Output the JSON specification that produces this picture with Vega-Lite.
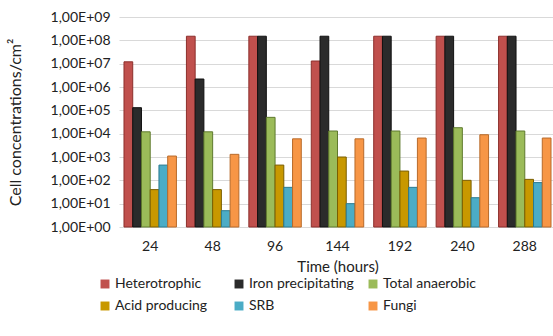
{
  "$schema": "https://vega.github.io/schema/vega-lite/v6.json",
  "width": 437,
  "height": 210,
  "padding": {"left": 7, "top": 10, "right": 0, "bottom": 0},
  "background": "white",
  "config": {
    "font": "Lato",
    "view": {"stroke": null},
    "axis": {"labelFont": "Lato", "titleFont": "Lato", "labelColor": "#222", "titleColor": "#222"},
    "legend": {"labelFont": "Lato", "labelColor": "#222"}
  },
  "data": {
    "values": [
      {"time": "24", "series": "Heterotrophic", "value": 12000000},
      {"time": "24", "series": "Iron precipitating", "value": 130000},
      {"time": "24", "series": "Total anaerobic", "value": 12000},
      {"time": "24", "series": "Acid producing", "value": 40},
      {"time": "24", "series": "SRB", "value": 450},
      {"time": "24", "series": "Fungi", "value": 1100},
      {"time": "48", "series": "Heterotrophic", "value": 150000000},
      {"time": "48", "series": "Iron precipitating", "value": 2200000},
      {"time": "48", "series": "Total anaerobic", "value": 12000},
      {"time": "48", "series": "Acid producing", "value": 40},
      {"time": "48", "series": "SRB", "value": 5},
      {"time": "48", "series": "Fungi", "value": 1300},
      {"time": "96", "series": "Heterotrophic", "value": 150000000},
      {"time": "96", "series": "Iron precipitating", "value": 150000000},
      {"time": "96", "series": "Total anaerobic", "value": 50000},
      {"time": "96", "series": "Acid producing", "value": 450},
      {"time": "96", "series": "SRB", "value": 50},
      {"time": "96", "series": "Fungi", "value": 6000},
      {"time": "144", "series": "Heterotrophic", "value": 13000000},
      {"time": "144", "series": "Iron precipitating", "value": 150000000},
      {"time": "144", "series": "Total anaerobic", "value": 13000},
      {"time": "144", "series": "Acid producing", "value": 1000},
      {"time": "144", "series": "SRB", "value": 10},
      {"time": "144", "series": "Fungi", "value": 6000},
      {"time": "192", "series": "Heterotrophic", "value": 150000000},
      {"time": "192", "series": "Iron precipitating", "value": 150000000},
      {"time": "192", "series": "Total anaerobic", "value": 13000},
      {"time": "192", "series": "Acid producing", "value": 250},
      {"time": "192", "series": "SRB", "value": 50},
      {"time": "192", "series": "Fungi", "value": 6500},
      {"time": "240", "series": "Heterotrophic", "value": 150000000},
      {"time": "240", "series": "Iron precipitating", "value": 150000000},
      {"time": "240", "series": "Total anaerobic", "value": 18000},
      {"time": "240", "series": "Acid producing", "value": 100},
      {"time": "240", "series": "SRB", "value": 18},
      {"time": "240", "series": "Fungi", "value": 9000},
      {"time": "288", "series": "Heterotrophic", "value": 150000000},
      {"time": "288", "series": "Iron precipitating", "value": 150000000},
      {"time": "288", "series": "Total anaerobic", "value": 13000},
      {"time": "288", "series": "Acid producing", "value": 110},
      {"time": "288", "series": "SRB", "value": 80},
      {"time": "288", "series": "Fungi", "value": 6500}
    ]
  },
  "mark": {"type": "bar", "strokeWidth": 1},
  "encoding": {
    "x": {
      "field": "time", "type": "ordinal",
      "sort": ["24", "48", "96", "144", "192", "240", "288"],
      "scale": {"paddingInner": 0.16, "paddingOuter": 0.08},
      "axis": {"title": "Time (hours)", "labelAngle": 0, "domain": false, "ticks": false, "labelFontSize": 14, "titleFontSize": 15, "titleFontWeight": "normal", "labelPadding": 12, "titlePadding": 6}
    },
    "xOffset": {
      "field": "series", "type": "nominal",
      "sort": ["Heterotrophic", "Iron precipitating", "Total anaerobic", "Acid producing", "SRB", "Fungi"],
      "scale": {"paddingInner": 0}
    },
    "y": {
      "field": "value", "type": "quantitative",
      "scale": {"type": "log", "domain": [1, 1000000000]},
      "axis": {
        "title": "Cell concentrations/cm²",
        "values": [1, 10, 100, 1000, 10000, 100000, 1000000, 10000000, 100000000, 1000000000],
        "labelExpr": "'1,00E+0' + round(log(datum.value)/LN10)",
        "domain": false, "ticks": false, "gridColor": "#d9d9d9",
        "labelFontSize": 14, "titleFontSize": 16, "titleFontWeight": "normal", "labelPadding": 9, "titlePadding": 27
      }
    },
    "y2": {"datum": 1},
    "color": {
      "field": "series", "type": "nominal",
      "sort": ["Heterotrophic", "Iron precipitating", "Total anaerobic", "Acid producing", "SRB", "Fungi"],
      "scale": {"range": ["#c0504d", "#2b2b2b", "#9bbb59", "#c89800", "#4bacc6", "#f79646"]},
      "legend": {"orient": "none", "direction": "horizontal", "legendX": -21, "legendY": 260, "columns": 3, "gridAlign": "all", "title": null, "symbolType": "square", "symbolSize": 80, "labelFontSize": 14, "columnPadding": 12, "rowPadding": 8, "symbolStrokeWidth": 0, "labelLimit": 200, "labelOffset": 3}
    },
    "stroke": {
      "field": "series", "type": "nominal",
      "sort": ["Heterotrophic", "Iron precipitating", "Total anaerobic", "Acid producing", "SRB", "Fungi"],
      "scale": {"range": ["#8c2f2c", "#111111", "#5f7a2e", "#7a5e00", "#2a7a90", "#b86a2a"]},
      "legend": null
    }
  }
}
